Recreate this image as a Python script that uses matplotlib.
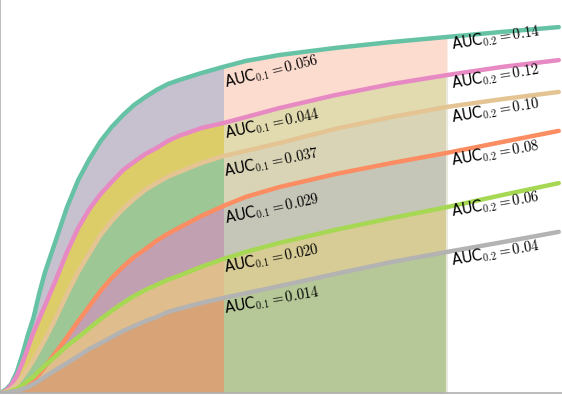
import numpy as np
import matplotlib.pyplot as plt

plt.rcParams['mathtext.fontset'] = 'cm'

# false positive rate grid
fpr = [0, 0.0025, 0.005, 0.0075, 0.01, 0.0125, 0.015, 0.0175, 0.02, 0.025,
       0.03, 0.035, 0.04, 0.045, 0.05, 0.055, 0.06, 0.065, 0.07, 0.075,
       0.08, 0.09, 0.1, 0.11, 0.125, 0.15, 0.175, 0.2, 0.225, 0.25]

# true positive rate of each curve (top to bottom)
tpr_teal = [0, 0.008, 0.023, 0.053, 0.097, 0.148, 0.192, 0.252, 0.305, 0.389,
            0.473, 0.542, 0.595, 0.641, 0.677, 0.707, 0.733, 0.753, 0.771, 0.786,
            0.796, 0.814, 0.830, 0.845, 0.860, 0.878, 0.893, 0.906, 0.919, 0.931]
tpr_pink = [0, 0.005, 0.020, 0.043, 0.076, 0.115, 0.155, 0.188, 0.221, 0.288,
            0.359, 0.420, 0.468, 0.506, 0.537, 0.567, 0.588, 0.608, 0.623, 0.641,
            0.654, 0.674, 0.687, 0.702, 0.725, 0.758, 0.786, 0.809, 0.830, 0.847]
tpr_tan = [0, 0.003, 0.010, 0.023, 0.041, 0.061, 0.084, 0.109, 0.135, 0.191,
           0.252, 0.308, 0.356, 0.402, 0.438, 0.468, 0.494, 0.517, 0.534, 0.550,
           0.562, 0.585, 0.603, 0.616, 0.636, 0.672, 0.702, 0.728, 0.748, 0.766]
tpr_orange = [0, 0, 0.003, 0.008, 0.015, 0.023, 0.033, 0.048, 0.066, 0.104,
              0.142, 0.183, 0.221, 0.260, 0.293, 0.321, 0.346, 0.366, 0.387, 0.405,
              0.420, 0.450, 0.476, 0.499, 0.524, 0.557, 0.585, 0.611, 0.639, 0.667]
tpr_green = [0, 0, 0.005, 0.010, 0.020, 0.031, 0.041, 0.056, 0.069, 0.094,
             0.120, 0.142, 0.165, 0.188, 0.209, 0.229, 0.247, 0.262, 0.275, 0.288,
             0.298, 0.321, 0.341, 0.359, 0.382, 0.415, 0.445, 0.473, 0.504, 0.534]
tpr_gray = [0, 0, 0.003, 0.005, 0.010, 0.015, 0.023, 0.031, 0.041, 0.059,
            0.076, 0.094, 0.112, 0.127, 0.142, 0.158, 0.170, 0.183, 0.193, 0.206,
            0.214, 0.229, 0.242, 0.254, 0.272, 0.303, 0.333, 0.359, 0.384, 0.410]

# partial AUC labels
auc_01 = ['0.056', '0.044', '0.037', '0.029', '0.020', '0.014']
auc_02 = ['0.14', '0.12', '0.10', '0.08', '0.06', '0.04']

curves = [tpr_teal, tpr_pink, tpr_tan, tpr_orange, tpr_green, tpr_gray]
line_colors = ['#66c2a5', '#e78ac3', '#e5c494', '#fc8d62', '#a6d854', '#b3b3b3']
left_fill = ['#c6c0cf', '#dccd68', '#9dc794', '#c1a0b1', '#dfbd8c', '#d7a377']
mid_fill = ['#fddcd0', '#e2dbb0', '#d9d4b5', '#c5c6b8', '#d7cc95', '#b6c898']
rot_01 = [14, 12.3, 11.5, 12.3, 11.3, 10.3]
rot_02 = [9, 9.5, 9.5, 10, 10, 10]
dy_01 = [-15, -11, -15, -13, -10, -11]
dy_02 = [-9, -10, -11, -9, -7, -10]

fig = plt.figure(figsize=(5.62, 3.95), dpi=100)
ax = fig.add_axes([0, 2 / 395, 1, 393 / 395])

x = np.array(fpr)
i1 = fpr.index(0.1)
i2 = fpr.index(0.2)
for k in range(len(curves)):
    top = np.array(curves[k])
    if k + 1 < len(curves):
        bot = np.array(curves[k + 1])
    else:
        bot = np.zeros_like(top)
    ax.fill_between(x[:i1 + 1], bot[:i1 + 1], top[:i1 + 1], color=left_fill[k], lw=0)
    ax.fill_between(x[i1:i2 + 1], bot[i1:i2 + 1], top[i1:i2 + 1], color=mid_fill[k], lw=0)

ax.plot([0.2, 0.2], [0, tpr_pink[i2]], color='#e9e8dc', lw=1.5)

for k in range(len(curves)):
    ax.plot(x, curves[k], color=line_colors[k], lw=3.2,
            solid_capstyle='round', solid_joinstyle='round')

for k in range(len(curves)):
    ax.annotate('AUC$_{0.1}=%s$' % auc_01[k], xy=(0.1, curves[k][i1]),
                xytext=(1.5, dy_01[k]), textcoords='offset points',
                rotation=rot_01[k], rotation_mode='anchor',
                ha='left', va='baseline', fontsize=10.5)
    ax.annotate('AUC$_{0.2}=%s$' % auc_02[k], xy=(0.2, curves[k][i2]),
                xytext=(3.5, dy_02[k]), textcoords='offset points',
                rotation=rot_02[k], rotation_mode='anchor',
                ha='left', va='baseline', fontsize=10.5)

ax.set_xlim(0, 562 / 2235)
ax.set_ylim(0, 1)
ax.set_xticks([])
ax.set_yticks([])
for s in ['top', 'right']:
    ax.spines[s].set_visible(False)
for s in ['left', 'bottom']:
    ax.spines[s].set_color('#b0b0b0')
    ax.spines[s].set_linewidth(1.2)

fig.savefig('out.png', dpi=100)
